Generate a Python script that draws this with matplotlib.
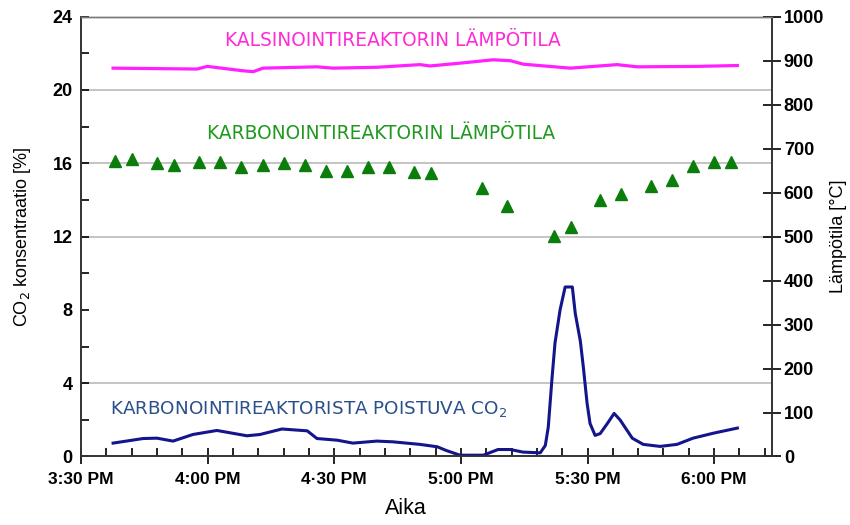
"""CO2-pitoisuus ja reaktorien lämpötilat ajan funktiona."""

import matplotlib
matplotlib.use("Agg")
import matplotlib.pyplot as plt
from matplotlib.ticker import MultipleLocator

# --- data (x = minuuttia klo 3:30 PM jälkeen) ---
co2_min = [7.6, 14.7, 18.0, 21.8, 26.5, 32.2, 39.3, 42.4, 47.6, 53.6, 55.9, 60.7,
           64.4, 70.1, 73.9, 80.3, 84.4, 86.5, 89.8, 95.3, 98.8, 101.7, 104.7, 108.8,
           110.0, 110.7, 111.6, 112.3, 113.5, 114.7, 116.4, 117.1, 118.3, 119.0,
           119.9, 120.6, 121.8, 123.0, 124.7, 126.3, 127.7, 130.6, 133.2, 137.2,
           141.2, 145.0, 149.8, 155.5]
co2_pct = [0.73, 0.98, 1.0, 0.84, 1.2, 1.42, 1.13, 1.2, 1.5, 1.4, 0.98, 0.89,
           0.73, 0.84, 0.8, 0.66, 0.53, 0.33, 0.07, 0.07, 0.38, 0.38, 0.24, 0.2,
           0.6, 1.6, 4.3, 6.2, 8.0, 9.25, 9.25, 7.8, 6.3, 4.9,
           2.9, 1.8, 1.15, 1.25, 1.8, 2.35, 2.0, 1.0, 0.66, 0.55,
           0.66, 1.0, 1.27, 1.55]

kalsin_min = [7.6, 27.5, 29.9, 38.4, 40.8, 43.1, 55.9, 59.7, 70.1, 80.3, 82.7,
              90.5, 97.6, 101.7, 104.8, 115.9, 127.0, 131.8, 146.0, 155.5]
kalsin_temp = [883, 881, 887, 877, 875, 883, 886, 883, 885, 891, 888,
               895, 902, 900, 892, 883, 891, 886, 887, 889]

karbo_min = [8, 12, 18, 22, 28, 33, 38, 43, 48, 53, 58, 63, 68, 73, 79, 83,
             95, 101, 112, 116, 123, 128, 135, 140, 145, 150, 154]
karbo_temp = [673, 676, 668, 663, 670, 670, 658, 663, 667, 663, 649, 649, 658, 658,
              646, 644, 611, 570, 502, 521, 583, 597, 615, 629, 661, 670, 670]

xtick_pos = [0, 30, 60, 90, 120, 150]
xtick_labels = ["3:30 PM", "4:00 PM", "4·30 PM", "5:00 PM", "5:30 PM", "6:00 PM"]
grid_levels = [4, 12, 16, 20]

plt.rcParams["font.family"] = ["Liberation Sans", "DejaVu Sans"]

fig = plt.figure(figsize=(8.5, 5.25), dpi=100)
ax = fig.add_axes([0.0953, 0.1305, 0.8129, 0.8377])
ax2 = ax.twinx()

# vaakaviivat
for lvl in grid_levels:
    ax.axhline(lvl, color="#c4c4c4", lw=1.4, zorder=0)

ax.plot(co2_min, co2_pct, color="#14148c", lw=2.2, zorder=3)
ax2.plot(kalsin_min, kalsin_temp, color="#ff20ff", lw=2.3)
ax2.plot(karbo_min, karbo_temp, "^", color="#0b7d0b", ms=8, mec="#0b7d0b")

ax.set_xlim(0, 163.7)
ax.set_ylim(0, 24)
ax2.set_ylim(0, 1000)

ax.set_xticks(xtick_pos)
ax.set_xticklabels(xtick_labels)
ax.xaxis.set_minor_locator(MultipleLocator(6))
ax.set_yticks(range(0, 25, 4))
ax.yaxis.set_minor_locator(MultipleLocator(2))
ax2.set_yticks(range(0, 1001, 100))

ax.tick_params(axis="x", which="major", direction="inout", length=12, width=1.2,
               labelsize=12.5, pad=5)
ax.tick_params(axis="x", which="minor", direction="in", length=6, width=1.2)
ax.tick_params(axis="y", which="both", direction="in", length=6, width=1.2,
               labelsize=13, pad=6)
ax2.tick_params(axis="y", direction="inout", length=13, width=1.2, labelsize=13, pad=2)
for lab in ax.get_xticklabels() + ax.get_yticklabels() + ax2.get_yticklabels():
    lab.set_fontweight("bold")

for a in (ax, ax2):
    a.spines["top"].set_color("#777777")
    a.spines["top"].set_linewidth(1.0)
    for s in ("left", "right", "bottom"):
        a.spines[s].set_color("#333333")
        a.spines[s].set_linewidth(1.2)

ax.set_ylabel("CO$_2$ konsentraatio [%]", fontsize=13, labelpad=14)
ax2.set_ylabel("Lämpötila [°C]", fontsize=13, labelpad=4)
fig.text(406 / 850, 1 - 508 / 525, "Aika", fontsize=15.5, fontweight="medium",
         ha="center", va="center")

# selitetekstit
label_font = ["DejaVu Sans"]
ax2.text(74, 945, "KALSINOINTIREAKTORIN LÄMPÖTILA", color="#ff2bd5",
         fontsize=13.4, family=label_font, ha="center", va="center")
ax2.text(71, 735, "KARBONOINTIREAKTORIN LÄMPÖTILA", color="#1f9a1f",
         fontsize=13.4, family=label_font, ha="center", va="center")
ax.text(6.8, 2.6, "KARBONOINTIREAKTORISTA POISTUVA CO$_2$", color="#2b4f8a",
        fontsize=13.2, family=label_font, ha="left", va="center")

fig.savefig("out.png", dpi=100)
